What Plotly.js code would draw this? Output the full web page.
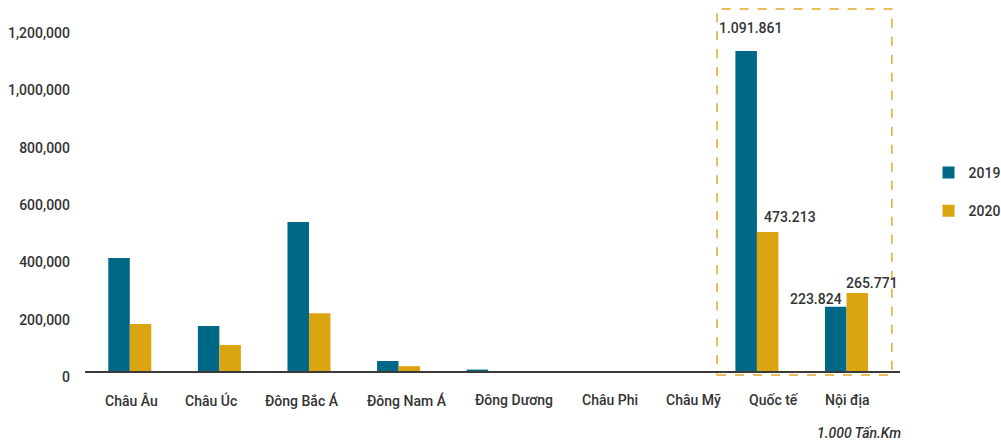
<!DOCTYPE html>
<html>
<head>
<meta charset="utf-8">
<script src="https://cdn.plot.ly/plotly-3.0.1.min.js"></script>
<style>html,body{margin:0;padding:0;background:#fff;}#chart{width:1001px;height:446px;}</style>
</head>
<body>
<div id="chart"></div>
<script>
// Categories and values (1.000 Tấn.Km)
const categories = ["Châu Âu", "Châu Úc", "Đông Bắc Á", "Đông Nam Á", "Đông Dương", "Châu Phi", "Châu Mỹ", "Quốc tế", "Nội địa"];
const values2019 = [394000, 157000, 520000, 35000, 5000, 0, 0, 1117000, 224000];
const values2020 = [164000, 91000, 202000, 17000, 0, 0, 0, 485000, 272000];
// Data label texts shown on the chart
const labels2019 = ["", "", "", "", "", "", "", "1.091.861", "223.824"];
const labels2020 = ["", "", "", "", "", "", "", "473.213", "265.771"];
const yTickVals = [0, 200000, 400000, 600000, 800000, 1000000, 1200000];
const yTickText = ["0", "200,000", "400,000", "600,000", "800,000", "1,000,000", "1,200,000"];
const seriesNames = ["2019", "2020"];
const unitNote = "1.000 Tấn.Km";

// ---- style ----
const C19 = "#006887", C20 = "#DBA411", TXT = "#333333";
const FONT = "Roboto, 'Noto Sans', sans-serif";
// horizontal nudges (px) of the category labels, as placed in the original
const catLabelShift = [1.5, -8, -6.5, 8.5, 25.5, 32, 26.5, 17, 0.5];

const traces = [
  {type: "bar", name: seriesNames[0], x: categories, y: values2019, marker: {color: C19}, legendgroup: "a", hoverinfo: "x+y"},
  {type: "bar", name: seriesNames[1], x: categories, y: values2020, marker: {color: C20}, legendgroup: "b", hoverinfo: "x+y"}
];

// data-label placement offsets (style only)
const off2019 = {"Quốc tế": {xs: -6, ys: 23, xa: "center"}, "Nội địa": {xs: -3, ys: 8, xa: "right"}};
const off2020 = {"Quốc tế": {xs: 33.5, ys: 15, xa: "center"}, "Nội địa": {xs: 25.5, ys: 10, xa: "center"}};
const lblFont = {family: FONT, size: 14, color: TXT, weight: 500};
const annotations = [];
categories.forEach((c, i) => {
  annotations.push({x: c, y: 0, xref: "x", yref: "paper", text: c, showarrow: false,
    xanchor: "center", yanchor: "middle", xshift: catLabelShift[i], yshift: -29, font: lblFont});
  if (labels2019[i]) {
    const o = off2019[c];
    annotations.push({x: c, y: values2019[i], xref: "x", yref: "y", text: labels2019[i], showarrow: false,
      xanchor: o.xa, yanchor: "middle", xshift: o.xs, yshift: o.ys, font: lblFont});
  }
  if (labels2020[i]) {
    const o = off2020[c];
    annotations.push({x: c, y: values2020[i], xref: "x", yref: "y", text: labels2020[i], showarrow: false,
      xanchor: o.xa, yanchor: "middle", xshift: o.xs, yshift: o.ys, font: lblFont});
  }
});
annotations.push({x: 1, y: 0, xref: "paper", yref: "paper", xanchor: "right", yanchor: "middle", yshift: -62, xshift: 3,
  text: "<i>" + unitNote + "</i>", showarrow: false, font: {family: FONT, size: 14, color: TXT}});

const layout = {
  width: 1001, height: 446,
  margin: {l: 85, r: 101, t: 10, b: 75, autoexpand: false},
  paper_bgcolor: "#fff", plot_bgcolor: "#fff",
  font: {family: FONT, size: 14, color: TXT, weight: 500},
  bargap: 0.52, bargroupgap: 0,
  xaxis: {showgrid: false, showline: true, linecolor: "#3a3a3a", linewidth: 2, ticks: "", showticklabels: false,
    fixedrange: true, automargin: false},
  yaxis: {range: [0, 1260000], showgrid: false, zeroline: false, showline: false, ticks: "",
    tickvals: yTickVals, ticktext: yTickText, ticklabelstandoff: 14, ticklabelshift: 6,
    tickfont: {family: FONT, size: 14, color: TXT, weight: 500}, fixedrange: true, automargin: false},
  legend: {x: 1.035, y: 0.496, xanchor: "left", yanchor: "middle", tracegroupgap: 17,
    font: {family: FONT, size: 14, color: TXT, weight: 500}, bgcolor: "rgba(0,0,0,0)"},
  shapes: [{type: "rect", xref: "paper", yref: "paper", x0: 0.7755, x1: 0.990, y0: -0.011, y1: 1.0028,
    line: {color: "#E2A82A", width: 1.5, dash: "dash"}, fillcolor: "rgba(0,0,0,0)"}],
  annotations: annotations,
  showlegend: true
};

Plotly.newPlot("chart", traces, layout, {displayModeBar: false, staticPlot: true});
</script>
</body>
</html>
